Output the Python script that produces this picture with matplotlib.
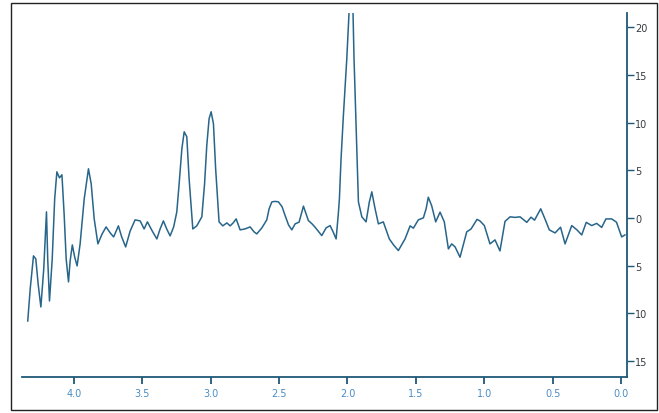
import matplotlib
matplotlib.use("Agg")
import matplotlib.pyplot as plt
from matplotlib.patches import Rectangle
from matplotlib.ticker import FuncFormatter

# (x axis reversed, 4.35 -> 0)
x_vals = [4.338, 4.320, 4.296, 4.279, 4.262, 4.242, 4.221, 4.201, 4.192, 4.179,
          4.159, 4.141, 4.125, 4.106, 4.088, 4.072, 4.057, 4.040, 4.028, 4.012,
          3.995, 3.977, 3.955, 3.925, 3.894, 3.874, 3.852, 3.825, 3.794, 3.765,
          3.735, 3.710, 3.675, 3.651, 3.622, 3.589, 3.553, 3.516, 3.487, 3.463,
          3.428, 3.394, 3.370, 3.346, 3.322, 3.297, 3.271, 3.248, 3.231, 3.211,
          3.194, 3.175, 3.158, 3.131, 3.102, 3.065, 3.045, 3.029, 3.012, 2.997,
          2.980, 2.964, 2.939, 2.912, 2.882, 2.858, 2.836, 2.814, 2.785, 2.749,
          2.712, 2.683, 2.663, 2.626, 2.590, 2.573, 2.553, 2.529, 2.505, 2.478,
          2.456, 2.431, 2.407, 2.383, 2.354, 2.322, 2.286, 2.259, 2.237, 2.215,
          2.188, 2.156, 2.127, 2.105, 2.083, 2.067, 2.059, 2.047, 2.030, 2.005,
          1.986, 1.974, 1.961, 1.952, 1.932, 1.920, 1.895, 1.864, 1.840, 1.822,
          1.798, 1.774, 1.738, 1.694, 1.663, 1.628, 1.579, 1.542, 1.518, 1.482,
          1.445, 1.425, 1.409, 1.384, 1.355, 1.323, 1.292, 1.262, 1.238, 1.213,
          1.177, 1.128, 1.096, 1.053, 1.031, 0.999, 0.958, 0.921, 0.885, 0.848,
          0.811, 0.775, 0.738, 0.689, 0.658, 0.632, 0.587, 0.556, 0.524, 0.482,
          0.442, 0.409, 0.360, 0.322, 0.287, 0.254, 0.214, 0.178, 0.141, 0.110,
          0.068, 0.033, -0.005, -0.029]

y_vals = [-10.82, -7.46, -3.99, -4.31, -6.93, -9.35, -5.36, 0.63, -4.31, -8.72,
          -4.31, 2.00, 4.83, 4.20, 4.52, 0.42, -4.31, -6.72, -4.52, -2.84,
          -4.10, -5.04, -2.73, 2.00, 5.15, 3.57, -0.11, -2.73, -1.68, -0.95,
          -1.58, -2.00, -0.84, -2.00, -3.05, -1.37, -0.21, -0.32, -1.16, -0.42,
          -1.37, -2.21, -1.16, -0.32, -1.16, -1.89, -0.95, 0.63, 3.57, 7.25,
          9.03, 8.51, 4.10, -1.16, -0.84, 0.11, 3.57, 7.56, 10.40, 11.13,
          9.87, 5.15, -0.42, -0.84, -0.53, -0.84, -0.53, -0.11, -1.26, -1.16,
          -0.95, -1.47, -1.68, -1.05, -0.21, 0.95, 1.68, 1.73, 1.68, 1.16,
          0.24, -0.74, -1.26, -0.63, -0.45, 1.23, -0.28, -0.63, -0.98, -1.37,
          -1.86, -1.05, -0.81, -1.47, -2.21, 0.42, 2.00, 6.20, 10.71, 16.70,
          22.5, 25.0, 22.5, 16.70, 7.25, 1.68, 0.11, -0.42, 1.68, 2.73,
          0.95, -0.63, -0.42, -2.21, -2.84, -3.43, -2.21, -0.84, -1.08, -0.21,
          0.00, 0.95, 2.17, 1.26, -0.42, 0.60, -0.42, -3.26, -2.73, -3.05,
          -4.13, -1.47, -1.16, -0.16, -0.32, -0.81, -2.73, -2.31, -3.47, -0.37,
          0.11, 0.05, 0.11, -0.47, 0.07, -0.24, 0.95, -0.11, -1.26, -1.58,
          -0.98, -2.73, -0.81, -1.26, -1.79, -0.47, -0.81, -0.58, -1.00, -0.11,
          -0.11, -0.45, -2.00, -1.79]

x_ticks = [4.0, 3.5, 3.0, 2.5, 2.0, 1.5, 1.0, 0.5, 0.0]
y_ticks = [20, 15, 10, 5, 0, -5, -10, -15]

line_color = "#27658a"
axis_color = "#1f5877"

fig = plt.figure(figsize=(6.59, 4.14), dpi=100)
fig.patch.set_facecolor("white")
fig.patches.append(Rectangle((11 / 659, 3 / 414), 646 / 659, 407 / 414,
                             transform=fig.transFigure, fill=False,
                             edgecolor="#222222", linewidth=1.0))

ax = fig.add_axes([22 / 659, 1 - 378 / 414, (627 - 22) / 659, (378 - 14) / 414])
ax.plot(x_vals, y_vals, color=line_color, linewidth=1.1)

ax.set_xlim(4.38, -0.044)
ax.set_ylim(-16.7, 21.5)

for s in ["top", "left"]:
    ax.spines[s].set_visible(False)
for s in ["bottom", "right"]:
    ax.spines[s].set_color(axis_color)
    ax.spines[s].set_linewidth(1.3)

ax.yaxis.tick_right()
ax.set_xticks(x_ticks)
ax.set_xticklabels([f"{t:.1f}" for t in x_ticks])
ax.set_yticks(y_ticks)
ax.yaxis.set_major_formatter(FuncFormatter(lambda v, p: f"{abs(int(v))}"))

ax.tick_params(axis="x", direction="out", length=5, width=1.3, color=axis_color,
               labelsize=7, labelcolor="#4a8cc4", pad=3)
ax.tick_params(axis="y", direction="out", length=5, width=1.0, color=axis_color,
               labelsize=7, labelcolor="#333a40", pad=1)

fig.savefig("out.png", dpi=100)
